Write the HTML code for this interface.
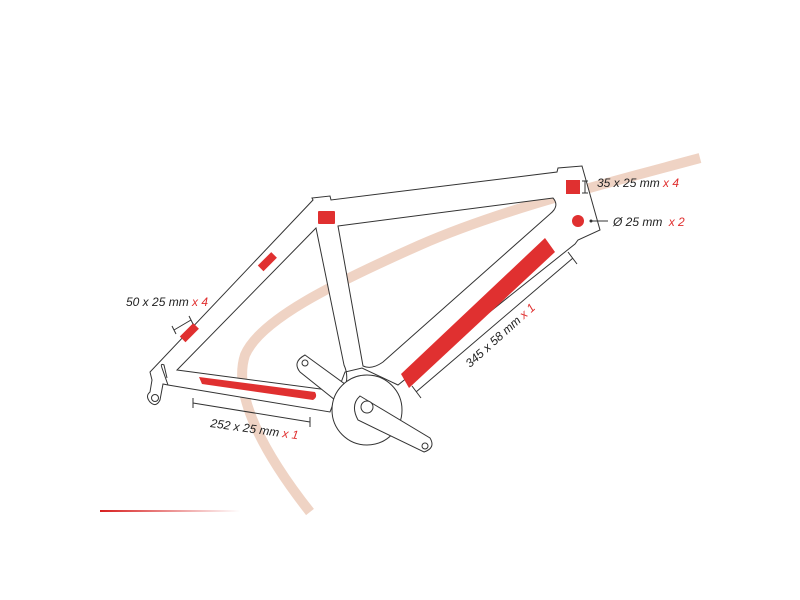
<!DOCTYPE html>
<html><head><style>
html,body{margin:0;padding:0;background:#fff;width:800px;height:600px;overflow:hidden}
text{font-family:"Liberation Sans Narrow","Liberation Sans",sans-serif;font-style:italic;font-size:12px;fill:#222}
.r{fill:#e03030}
</style></head><body>
<svg width="800" height="600" viewBox="0 0 800 600" xmlns="http://www.w3.org/2000/svg">
<defs><linearGradient id="g" x1="0" x2="1"><stop offset="0" stop-color="#d82020"/><stop offset="1" stop-color="#d82020" stop-opacity="0"/></linearGradient></defs>
<path d="M700,158 C600,185 500,210 420,245 C330,285 260,320 245,355 C232,395 265,455 310,512" fill="none" stroke="#efd3c4" stroke-width="10"/>
<rect x="100" y="510" width="140" height="2" fill="url(#g)"/>
<g fill="#fff" stroke="#333" stroke-width="1" fill-rule="evenodd">
<path d="M313,200 L312,198 L330,196 L331,200 L557,172 L558,168 L582,166 L600,230 L578,240 L575,244 L398,385 L362,368 L345,372 L330,412 L168,385 L163,384 L160,400 Q156,408 150,402 Q145,396 150,392 L152,380 L150,372 Z
M316,228 L177,370 L343,392 Q350,378 344,365 Z
M338,226 L553,198 Q560,206 550,214 L383,362 Q372,370 363,366 Z"/>
<path d="M168,385 L162,368 Q160,363 164,365 L167,378" fill="none"/>
<path d="M305,355 L360,395 L350,412 L300,372 Q292,362 305,355 Z"/>
<circle cx="367" cy="410" r="35"/>
<path d="M360,396 L430,438 Q436,448 424,452 L358,420 Q350,405 360,396 Z"/>
<circle cx="367" cy="407" r="6"/>
<circle cx="305" cy="363" r="3"/>
<circle cx="425" cy="446" r="3"/>
<circle cx="155" cy="398" r="3.5"/>
</g>
<rect x="318" y="211" width="17" height="13" class="r" rx="1"/>
<rect x="258" y="258" width="19" height="8" class="r" transform="rotate(-45 267 262)"/>
<rect x="180" y="329" width="19" height="8" class="r" transform="rotate(-45 189 333)"/>
<path d="M199,377 L315,392 Q318,397 313,400 L202,384 Z" class="r"/>
<path d="M401,374 L545,238 L555,252 L409,388 Z" class="r"/>
<rect x="566" y="180" width="14" height="14" class="r"/>
<circle cx="578" cy="221" r="6" class="r"/>
<g stroke="#333" stroke-width="1" fill="none">
<path d="M174,330 L191,320 M172,326 L176,334 M189,316 L193,324"/>
<path d="M193,403 L310,422 M193,398 L193,408 M310,417 L310,427"/>
<path d="M416,392 L573,258 M412,386 L421,398 M568,252 L577,264"/>
<path d="M585,181 L585,193 M582,181 L588,181 M582,193 L588,193"/>
<path d="M591,221 L608,221"/>
</g>
<circle cx="591" cy="221" r="1.5" fill="#333"/>
<text x="126" y="306">50 x 25 mm <tspan class="r">x 4</tspan></text>
<text x="210" y="427" transform="rotate(8 210 427)">252 x 25 mm <tspan class="r">x 1</tspan></text>
<text x="470" y="368" transform="rotate(-42 470 368)">345 x 58 mm <tspan class="r">x 1</tspan></text>
<text x="597" y="187">35 x 25 mm <tspan class="r">x 4</tspan></text>
<text x="613" y="226">Ø 25 mm <tspan class="r" dx="3">x 2</tspan></text>
</svg>
</body></html>
